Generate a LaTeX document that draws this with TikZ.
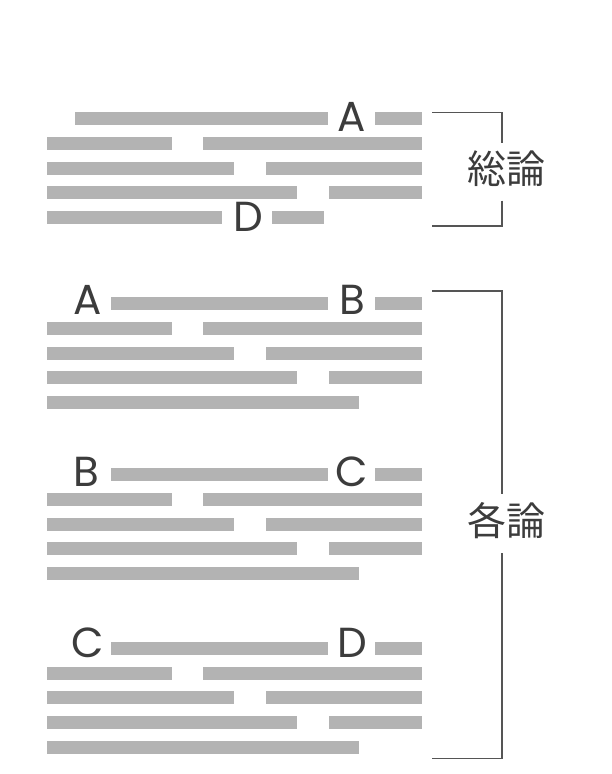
\documentclass[tikz,border=0pt]{standalone}
\usepackage{fontspec}
\newfontfamily\cjk{Noto Sans CJK JP}
\newfontfamily\lat{Poppins}
\definecolor{bargray}{HTML}{B3B3B3}
\definecolor{inkc}{HTML}{3C3C3C}
\definecolor{brk}{HTML}{555555}
\newcommand\hbarr[3]{\fill[bar] ({#1},{#3-6.5}) rectangle ({#2},{#3+6.5});}
\newcommand\midrows[1]{%
 \hbarr{47}{172}{#1+24.75}\hbarr{203}{422}{#1+24.75}%
 \hbarr{47}{234}{#1+49.5}\hbarr{266}{422}{#1+49.5}%
 \hbarr{47}{297}{#1+74.25}\hbarr{329}{422}{#1+74.25}}
\begin{document}
\begin{tikzpicture}[x=1pt,y=-1pt,
  bar/.style={fill=bargray},
  letter/.style={font=\lat\fontsize{42}{42}\selectfont, text=inkc, inner sep=0pt, anchor=base},
  heading/.style={font=\cjk\fontsize{39}{39}\selectfont, text=inkc, inner sep=0pt},
  bracket/.style={draw=brk, line width=1.6pt}]
\useasboundingbox[fill=white] (0,0) rectangle (611,774);

% ---- group 1 (総論)
\hbarr{75}{328}{118.5}\hbarr{375}{422}{118.5}
\midrows{118.5}
\hbarr{47}{222}{217.5}\hbarr{272}{324}{217.5}
\node[letter] (g1a) at (352,131.5) {A};
\node[letter] (g1d) at (248,231) {D};

% ---- group 2
\hbarr{111}{328}{303.7}\hbarr{375}{422}{303.7}
\midrows{303.7}
\hbarr{47}{359}{402.7}
\node[letter] (g2a) at (87.5,314.3) {A};
\node[letter] (g2b) at (352,314.3) {B};

% ---- group 3
\hbarr{111}{328}{474.7}\hbarr{375}{422}{474.7}
\midrows{474.7}
\hbarr{47}{359}{573.4}
\node[letter] (g3b) at (86,486.5) {B};
\node[letter] (g3c) at (352,486.5) {C};

% ---- group 4
\hbarr{111}{328}{648.3}\hbarr{375}{422}{648.3}
\midrows{648.3}
\hbarr{47}{359}{747.3}
\node[letter] (g4c) at (87.4,657) {C};
\node[letter] (g4d) at (352,657) {D};

% ---- bracket 1
\coordinate (b1t) at (432,112.3);
\coordinate (b1tr) at (502,112.3);
\coordinate (b1gt) at (502,142.7);
\coordinate (b1gb) at (502,200.7);
\coordinate (b1br) at (502,225.7);
\coordinate (b1b) at (432,225.7);
\draw[bracket] (b1t) -- (b1tr) -- (b1gt);
\draw[bracket] (b1gb) -- (b1br) -- (b1b);
\node[heading] (h1) at (506,168.5) {総論};

% ---- bracket 2
\coordinate (b2t) at (432,290.7);
\coordinate (b2tr) at (502,290.7);
\coordinate (b2gt) at (502,494.3);
\coordinate (b2gb) at (502,553.3);
\coordinate (b2br) at (502,758.3);
\coordinate (b2b) at (432,758.3);
\draw[bracket] (b2t) -- (b2tr) -- (b2gt);
\draw[bracket] (b2gb) -- (b2br) -- (b2b);
\node[heading] (h2) at (506,520.5) {各論};
\end{tikzpicture}
\end{document}
